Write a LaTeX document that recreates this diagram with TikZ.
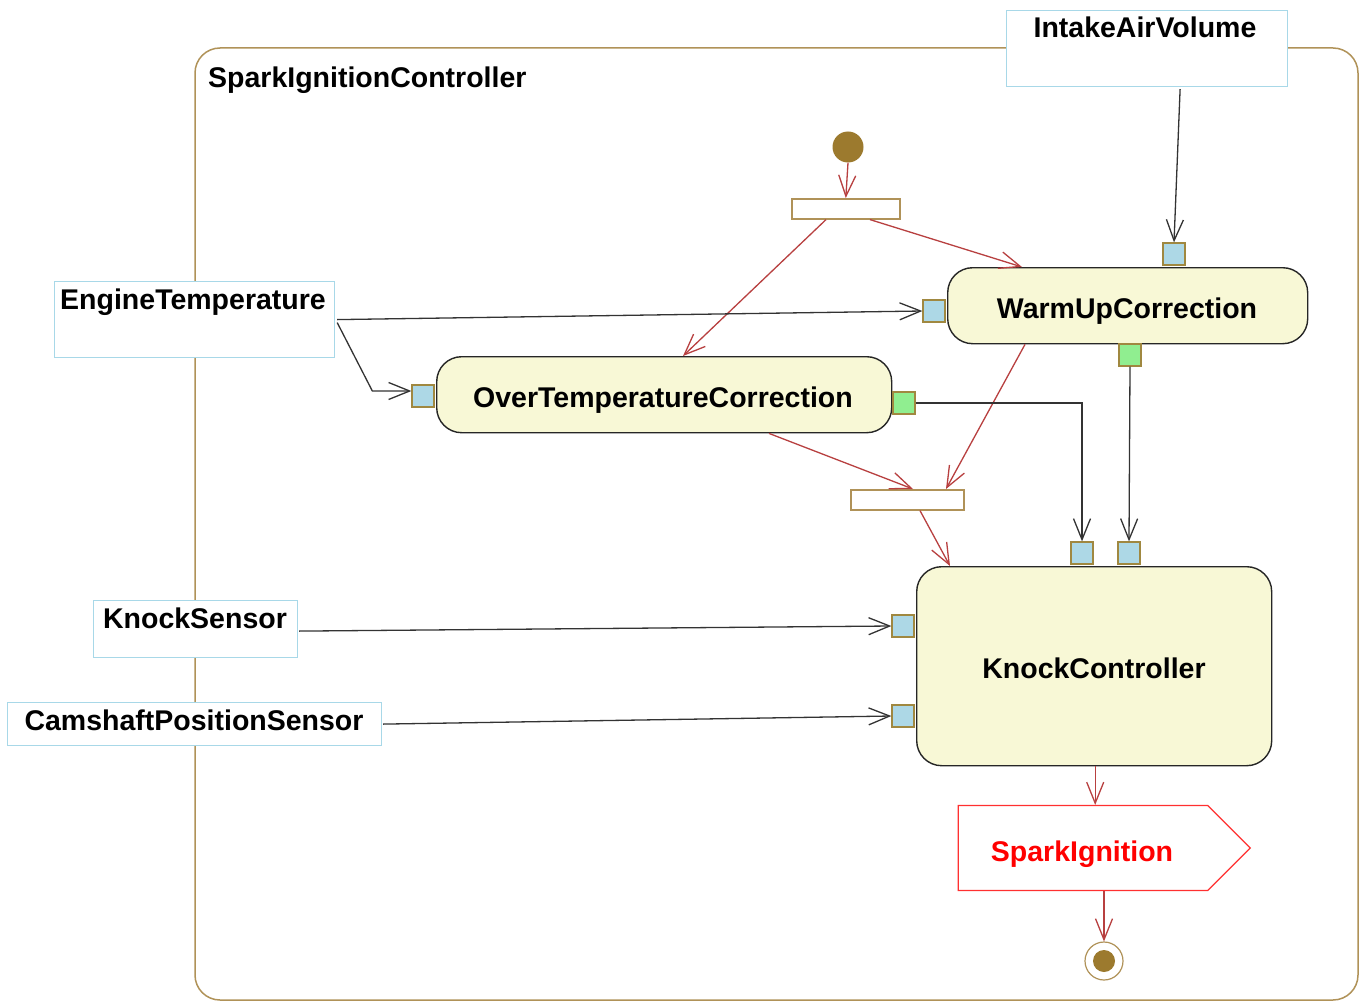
\documentclass[tikz,border=0pt]{standalone}
\usepackage{fontspec}
\setmainfont{Liberation Sans}
\usetikzlibrary{arrows.meta,calc,shapes.symbols}
\definecolor{frameC}{RGB}{176,146,88}
\definecolor{initC}{RGB}{156,122,46}
\definecolor{pinB}{RGB}{173,216,230}
\definecolor{pinG}{RGB}{144,238,144}
\definecolor{pinE}{RGB}{160,136,64}
\definecolor{flowC}{RGB}{184,64,64}
\definecolor{actF}{RGB}{248,248,214}
\definecolor{objE}{RGB}{168,216,232}
\definecolor{sigE}{RGB}{255,48,48}
\tikzset{
  lbl/.style={font=\fontsize{28.5}{32}\selectfont\bfseries, inner sep=0pt, anchor=base},
  objbox/.style={draw=objE, line width=1.2pt, fill=white, anchor=north west, inner sep=0pt},
  actbox/.style={draw=black!85, line width=1.4pt, fill=actF, rounded corners=25pt, anchor=north west, inner sep=0pt},
  bar/.style={draw=frameC, line width=1.6pt, fill=white, anchor=north west, inner sep=0pt},
  pinblue/.style={draw=pinE, line width=1.3pt, fill=pinB, minimum size=22pt, inner sep=0pt},
  pingreen/.style={draw=pinE, line width=1.3pt, fill=pinG, minimum size=22pt, inner sep=0pt},
  flow/.style={draw=flowC, line width=1.3pt, -{Straight Barb[length=21pt,width=17pt,line width=1.3pt]}},
  obj/.style={draw=black!80, line width=1.3pt, -{Straight Barb[length=21pt,width=17pt,line width=1.3pt]}},
}
\begin{document}
\begin{tikzpicture}[x=1pt,y=-1pt]
\useasboundingbox[fill=white] (0,0) rectangle (1360,1003);
% frame
\draw[frameC, line width=1.5pt, rounded corners=25pt] (195,48) rectangle (1358,1000);
\node[lbl, anchor=base west] (title) at (208,88) {SparkIgnitionController};
% object boxes
\node[objbox, minimum width=281pt, minimum height=76pt] (ia) at (1006,10) {};
\node[lbl] (iaT) at (1145,38) {IntakeAirVolume};
\node[objbox, minimum width=280pt, minimum height=76pt] (eng) at (54,281) {};
\node[lbl] (engT) at (193,309) {EngineTemperature};
\node[objbox, minimum width=204pt, minimum height=57pt] (ks) at (93,600) {};
\node[lbl] (ksT) at (195,628) {KnockSensor};
\node[objbox, minimum width=374pt, minimum height=43pt] (cam) at (7,702) {};
\node[lbl] (camT) at (194,730) {CamshaftPositionSensor};
% initial, bars
\node[circle, fill=initC, minimum size=31pt, inner sep=0pt] (init) at (848,147) {};
\node[bar, minimum width=108pt, minimum height=20pt] (fork) at (791,198) {};
\node[bar, minimum width=113pt, minimum height=20pt] (join) at (850,489) {};
% actions
\node[actbox, minimum width=360pt, minimum height=76pt] (warm) at (947,267) {};
\node[lbl] (warmT) at (1127,318) {WarmUpCorrection};
\node[actbox, minimum width=455pt, minimum height=76pt] (over) at (436,356) {};
\node[lbl] (overT) at (663,407) {OverTemperatureCorrection};
\node[actbox, minimum width=355pt, minimum height=199pt] (kc) at (916,566) {};
\node[lbl] (kcT) at (1094,678) {KnockController};
% pins
\node[pinblue] (pWT) at (1174,254) {};
\node[pinblue] (pWL) at (934,311) {};
\node[pingreen] (pWO) at (1130,355) {};
\node[pinblue] (pOL) at (423,396) {};
\node[pingreen] (pOO) at (904,403) {};
\node[pinblue] (pK1) at (1082,553) {};
\node[pinblue] (pK2) at (1129,553) {};
\node[pinblue] (pKL1) at (903,626) {};
\node[pinblue] (pKL2) at (903,716) {};
% signal
\node[signal, signal to=east, signal pointer angle=90, draw=sigE, line width=1.2pt, fill=white, minimum width=292pt, minimum height=85pt, inner sep=0pt] (si) at (1083,848) {};
\node[lbl, text=red] (siT) at (1082,861) {SparkIgnition};
% final
\node[circle, draw=frameC, line width=1.2pt, fill=white, minimum size=38pt, inner sep=0pt] (fin) at (1104,961) {};
\node[circle, fill=initC, minimum size=22pt, inner sep=0pt] (finI) at (fin.center) {};
% control flows
\draw[flow] (init.south) -- (fork.north);
\draw[flow] ($(fork.south west)+(79,0)$) -- ($(warm.north west)+(75,0)$);
\draw[flow] ($(fork.south west)+(35,0)$) -- ($(over.north west)+(247,0)$);
\draw[flow] ($(over.south west)+(333,0)$) -- ($(join.north west)+(63,0)$);
\draw[flow] ($(warm.south west)+(78,0)$) -- ($(join.north west)+(96,0)$);
\draw[flow] ($(join.south west)+(70,0)$) -- ($(kc.north west)+(34,0)$);
\draw[flow] ($(kc.south)+(1,0)$) -- ($(kc.south |- si.north)+(1,0)$);
\draw[flow] (fin.north |- si.south) -- (fin.north);
% object flows
\draw[obj] ($(ia.south)+(33,2)$) -- (pWT.north);
\draw[obj] ($(eng.east)+(2,0)$) -- (pWL.west);
\draw[obj] ($(eng.east)+(2,3)$) -- ($(pOL.west)+(-39,-5)$) -- ($(pOL.west)+(0,-5)$);
\draw[obj] (pOO.east) -| (pK1.north);
\draw[obj] (pWO.south) -- (pK2.north);
\draw[obj] ($(ks.east)+(1,2)$) -- (pKL1.west);
\draw[obj] ($(cam.east)+(1,0)$) -- (pKL2.west);
\end{tikzpicture}
\end{document}
